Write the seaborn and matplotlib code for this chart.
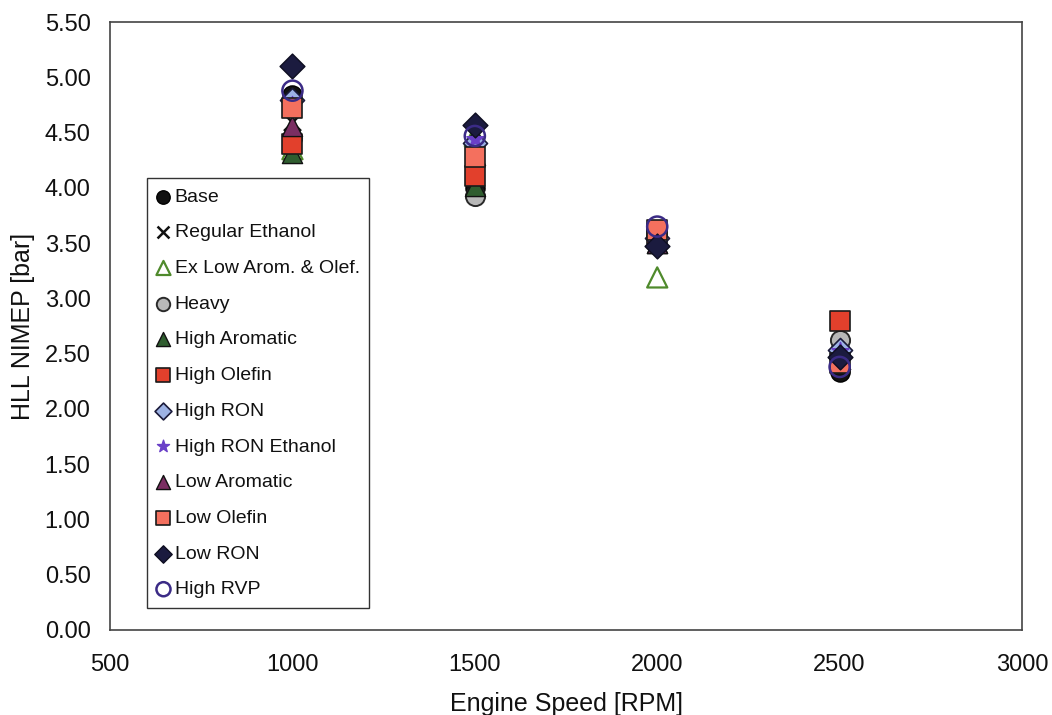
import matplotlib
matplotlib.use("Agg")
import matplotlib.pyplot as plt
import seaborn as sns
import pandas as pd

# Engine speeds tested
speeds = [1000, 1500, 2000, 2500]

# HLL NIMEP [bar] per fuel at each speed
base = [4.84, 4.00, 3.55, 2.33]
regular_ethanol = [4.60, 4.30, 3.60, 2.50]
ex_low_arom_olef = [4.35, 4.47, 3.19, 2.55]
heavy = [4.45, 3.93, 3.55, 2.62]
high_aromatic = [4.32, 4.02, 3.50, 2.45]
high_olefin = [4.40, 4.11, 3.58, 2.80]
high_ron = [4.80, 4.41, 3.55, 2.53]
high_ron_ethanol = [4.75, 4.44, 3.52, 2.52]
low_aromatic = [4.56, 4.30, 3.50, 2.45]
low_olefin = [4.72, 4.28, 3.62, 2.42]
low_ron = [5.10, 4.57, 3.47, 2.47]
high_rvp = [4.88, 4.47, 3.65, 2.38]

fuels = ["Base", "Regular Ethanol", "Ex Low Arom. & Olef.", "Heavy",
         "High Aromatic", "High Olefin", "High RON", "High RON Ethanol",
         "Low Aromatic", "Low Olefin", "Low RON", "High RVP"]
values = [base, regular_ethanol, ex_low_arom_olef, heavy, high_aromatic,
          high_olefin, high_ron, high_ron_ethanol, low_aromatic, low_olefin,
          low_ron, high_rvp]

# marker, face colour, edge colour, size, edge width
styles = {
    "Base": ("o", "#111111", "#000000", 190, 1.0),
    "Regular Ethanol": ("x", "#111111", "#111111", 150, 1.8),
    "Ex Low Arom. & Olef.": ("^", "none", "#4f8a2c", 210, 1.6),
    "Heavy": ("o", "#b8b8b8", "#2a2a2a", 190, 1.4),
    "High Aromatic": ("^", "#2f5d2f", "#111111", 210, 1.0),
    "High Olefin": ("s", "#e2402c", "#1a1a1a", 195, 1.2),
    "High RON": ("D", "#9db2e4", "#1a1a3a", 150, 1.2),
    "High RON Ethanol": ("*", "#6a40c8", "#6a40c8", 170, 1.0),
    "Low Aromatic": ("^", "#7a2e62", "#111111", 210, 1.0),
    "Low Olefin": ("s", "#f4705e", "#1a1a1a", 195, 1.2),
    "Low RON": ("D", "#1b1b3f", "#0d0d20", 160, 1.0),
    "High RVP": ("o", "none", "#3b2b86", 210, 1.8),
}

sns.set_theme(style="white")
plt.rcParams["font.family"] = ["Liberation Sans", "DejaVu Sans"]

fig = plt.figure(figsize=(10.52, 7.15), dpi=100)
ax = fig.add_axes([0.1046, 0.119, 0.8669, 0.850])

for name, vals in zip(fuels, values):
    df = pd.DataFrame({"speed": speeds, "nimep": vals})
    m, fc, ec, s, lw = styles[name]
    if m == "x":
        sns.scatterplot(data=df, x="speed", y="nimep", ax=ax, marker=m,
                        color=fc, s=s, linewidth=lw, label=name)
    else:
        sns.scatterplot(data=df, x="speed", y="nimep", ax=ax, marker=m,
                        facecolors=fc, edgecolors=ec, s=s, linewidth=lw,
                        label=name)

ax.set_xlim(500, 3000)
ax.set_ylim(0, 5.5)
ax.set_xticks([500, 1000, 1500, 2000, 2500, 3000])
ax.set_yticks([i * 0.5 for i in range(12)])
ax.set_yticklabels([f"{i * 0.5:.2f}" for i in range(12)])
ax.tick_params(axis="both", direction="in", length=5, width=1,
               color="#333333", labelsize=17, labelcolor="#111111")
ax.tick_params(axis="y", pad=14)
ax.tick_params(axis="x", pad=17)
for sp in ax.spines.values():
    sp.set_color("#444444")
    sp.set_linewidth(1.2)

ax.set_xlabel("Engine Speed [RPM]", fontsize=18, color="#111111", labelpad=12)
ax.set_ylabel("HLL NIMEP [bar]", fontsize=18, color="#111111", labelpad=7)

leg = ax.legend(loc="lower left", bbox_to_anchor=(0.041, 0.036),
                fontsize=14, markerscale=0.7, frameon=True, fancybox=False,
                framealpha=1, edgecolor="#333333", handlelength=0.65,
                handletextpad=0.25, labelspacing=0.93, borderpad=0.5,
                borderaxespad=0)
leg.get_frame().set_linewidth(1.0)
for t in leg.get_texts():
    t.set_color("#111111")

fig.savefig("out.png", dpi=100, facecolor="white")
